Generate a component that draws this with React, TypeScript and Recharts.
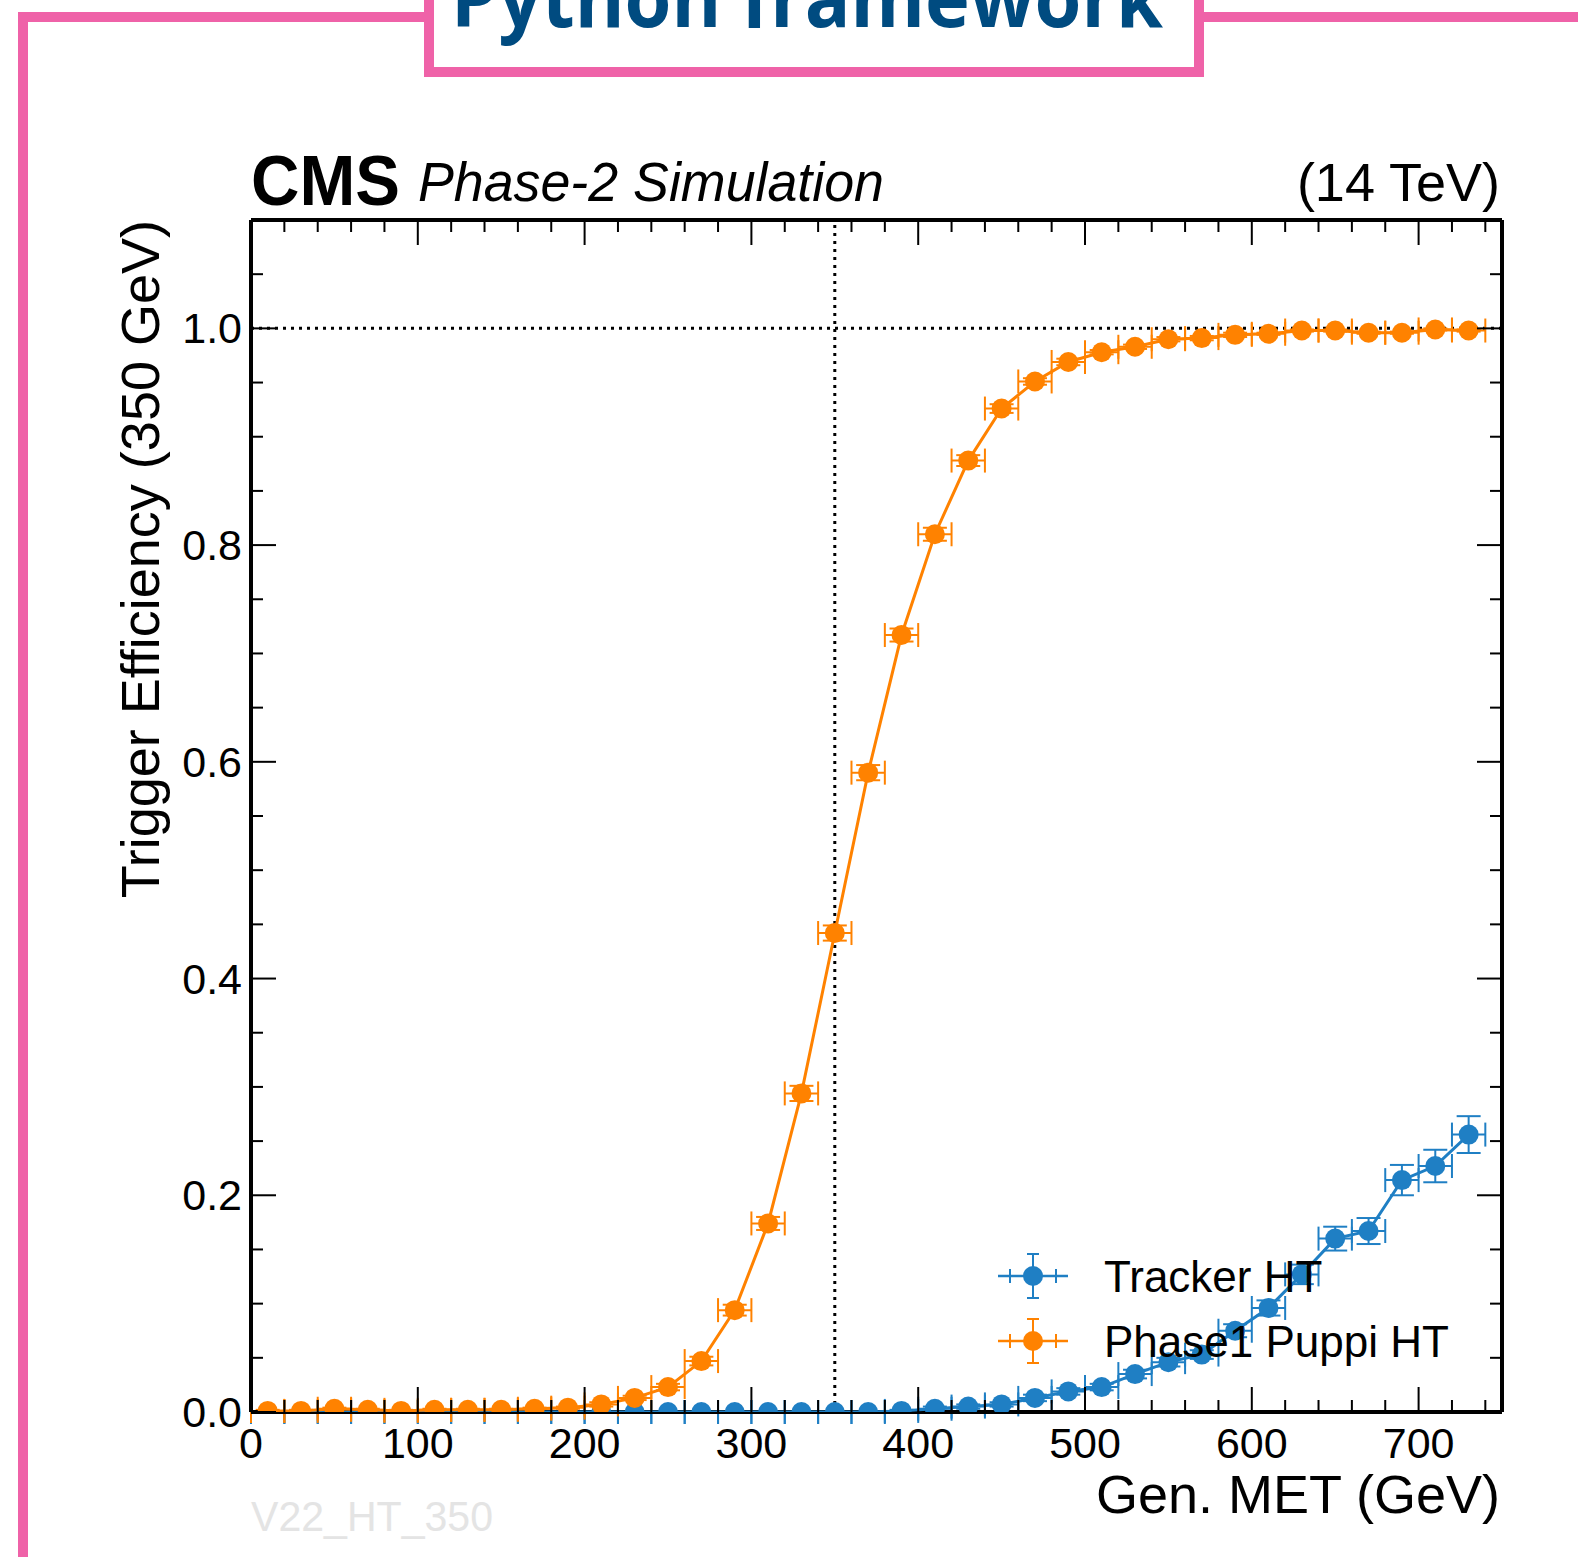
import { ScatterChart, Scatter, XAxis, YAxis, ErrorBar, ReferenceLine } from 'recharts';

// bin centres of Gen. MET (GeV), 20 GeV wide bins
const metBins = [
  10, 30, 50, 70, 90, 110, 130, 150, 170, 190, 210, 230, 250, 270, 290, 310, 330, 350, 370,
  390, 410, 430, 450, 470, 490, 510, 530, 550, 570, 590, 610, 630, 650, 670, 690, 710, 730,
];
const binHalfWidth = 10;

const trackerEff = [
  0, 0, 0, 0, 0, 0, 0, 0, 0, 0, 0, 0, 0, 0, 0, 0, 0, 0, 0,
  0.001, 0.003, 0.005, 0.007, 0.013, 0.019, 0.023, 0.035, 0.046, 0.053, 0.075, 0.096, 0.127, 0.16, 0.167, 0.214, 0.227, 0.256,
];
const trackerErr = [
  0, 0, 0, 0, 0, 0, 0, 0, 0, 0, 0, 0, 0, 0, 0, 0, 0, 0, 0,
  0.001, 0.002, 0.002, 0.002, 0.003, 0.003, 0.003, 0.004, 0.004, 0.004, 0.006, 0.007, 0.009, 0.011, 0.012, 0.014, 0.015, 0.017,
];

const puppiEff = [
  0.001, 0.001, 0.003, 0.002, 0.001, 0.002, 0.002, 0.002, 0.003, 0.004, 0.007, 0.013, 0.023, 0.047, 0.094, 0.174, 0.294, 0.442, 0.59,
  0.717, 0.81, 0.878, 0.926, 0.951, 0.969, 0.978, 0.983, 0.99, 0.991, 0.994, 0.995, 0.998, 0.998, 0.996, 0.996, 0.999, 0.998,
];
const puppiErr = [
  0.001, 0.001, 0.001, 0.001, 0.001, 0.001, 0.001, 0.001, 0.001, 0.001, 0.002, 0.002, 0.003, 0.004, 0.005, 0.006, 0.007, 0.007, 0.007,
  0.006, 0.006, 0.005, 0.004, 0.003, 0.003, 0.002, 0.002, 0.002, 0.002, 0.002, 0.001, 0.001, 0.001, 0.001, 0.001, 0.001, 0.001,
];

const xTicks = [
  0, 20, 40, 60, 80, 100, 120, 140, 160, 180, 200, 220, 240, 260, 280, 300, 320, 340, 360, 380,
  400, 420, 440, 460, 480, 500, 520, 540, 560, 580, 600, 620, 640, 660, 680, 700, 720, 740,
];
const yTicks = [
  0, 0.05, 0.1, 0.15, 0.2, 0.25, 0.3, 0.35, 0.4, 0.45, 0.5, 0.55, 0.6, 0.65, 0.7, 0.75, 0.8, 0.85, 0.9, 0.95, 1.0, 1.05, 1.1,
];

const thresholdMet = 350;
const plateau = 1.0;

const BLUE = '#1f7fc4';
const ORANGE = '#ff8200';
const PINK = '#ef62a8';
const FONT = '"Liberation Sans", Arial, Helvetica, sans-serif';

const series = [
  { name: 'Tracker HT', color: BLUE },
  { name: 'Phase1 Puppi HT', color: ORANGE },
];

const trackerData = metBins.map((x, i) => ({ x, y: trackerEff[i], ex: binHalfWidth, ey: trackerErr[i] }));
const puppiData = metBins.map((x, i) => ({ x, y: puppiEff[i], ex: binHalfWidth, ey: puppiErr[i] }));

const isMajorY = (v: number) => Math.abs(v * 5 - Math.round(v * 5)) < 1e-6;

const BottomTick = (props: any) => {
  const { x, y, payload } = props;
  const major = payload.value % 100 === 0;
  return (
    <g>
      <line x1={x} x2={x} y1={y} y2={y - (major ? 25 : 12)} stroke="#000" strokeWidth={2} />
      {major && (
        <text x={x} y={y + 46} textAnchor="middle" fontSize={43} fontFamily={FONT} fill="#000">
          {payload.value}
        </text>
      )}
    </g>
  );
};

const TopTick = (props: any) => {
  const { x, y, payload } = props;
  const major = payload.value % 100 === 0;
  return <line x1={x} x2={x} y1={y} y2={y + (major ? 25 : 12)} stroke="#000" strokeWidth={2} />;
};

const LeftTick = (props: any) => {
  const { x, y, payload } = props;
  const major = isMajorY(payload.value);
  const showLabel = major && payload.value <= 1.0001;
  return (
    <g>
      <line x1={x} x2={x + (major ? 25 : 12)} y1={y} y2={y} stroke="#000" strokeWidth={2} />
      {showLabel && (
        <text x={x - 9} y={y + 15} textAnchor="end" fontSize={43} fontFamily={FONT} fill="#000">
          {payload.value.toFixed(1)}
        </text>
      )}
    </g>
  );
};

const RightTick = (props: any) => {
  const { x, y, payload } = props;
  const major = isMajorY(payload.value);
  return <line x1={x} x2={x - (major ? 25 : 12)} y1={y} y2={y} stroke="#000" strokeWidth={2} />;
};

const Dot = (color: string) => (props: any) => <circle cx={props.cx} cy={props.cy} r={10} fill={color} />;

const LegendMarker = ({ cx, cy, c }: { cx: number; cy: number; c: string }) => (
  <g>
    <line x1={cx - 35} x2={cx + 35} y1={cy} y2={cy} stroke={c} strokeWidth={2.5} />
    <line x1={cx - 23} x2={cx - 23} y1={cy - 7} y2={cy + 7} stroke={c} strokeWidth={2} />
    <line x1={cx + 23} x2={cx + 23} y1={cy - 7} y2={cy + 7} stroke={c} strokeWidth={2} />
    <line x1={cx} x2={cx} y1={cy - 22} y2={cy + 22} stroke={c} strokeWidth={2} />
    <line x1={cx - 6} x2={cx + 6} y1={cy - 22} y2={cy - 22} stroke={c} strokeWidth={2} />
    <line x1={cx - 6} x2={cx + 6} y1={cy + 22} y2={cy + 22} stroke={c} strokeWidth={2} />
    <circle cx={cx} cy={cy} r={10} fill={c} />
  </g>
);

export default function App() {
  return (
    <div style={{ position: 'relative', width: 1578, height: 1557, background: '#fff' }}>
      <style>{'body{margin:0}'}</style>

      <ScatterChart
        width={1578}
        height={1557}
        margin={{ top: 219, right: 75, bottom: 144, left: 250 }}
      >
        <XAxis
          xAxisId="b"
          type="number"
          dataKey="x"
          domain={[0, 750]}
          ticks={xTicks}
          interval={0}
          height={1}
          tickSize={0}
          tickMargin={0}
          tickLine={false}
          tick={<BottomTick />}
          axisLine={{ stroke: '#000', strokeWidth: 4 }}
          allowDataOverflow
        />
        <XAxis
          xAxisId="t"
          orientation="top"
          type="number"
          dataKey="x"
          domain={[0, 750]}
          ticks={xTicks}
          interval={0}
          height={1}
          tickSize={0}
          tickMargin={0}
          tickLine={false}
          tick={<TopTick />}
          axisLine={{ stroke: '#000', strokeWidth: 4 }}
          allowDataOverflow
        />
        <YAxis
          yAxisId="l"
          type="number"
          dataKey="y"
          domain={[0, 1.1]}
          ticks={yTicks}
          interval={0}
          width={1}
          tickSize={0}
          tickMargin={0}
          tickLine={false}
          tick={<LeftTick />}
          axisLine={{ stroke: '#000', strokeWidth: 4 }}
          allowDataOverflow
        />
        <YAxis
          yAxisId="r"
          orientation="right"
          type="number"
          dataKey="y"
          domain={[0, 1.1]}
          ticks={yTicks}
          interval={0}
          width={1}
          tickSize={0}
          tickMargin={0}
          tickLine={false}
          tick={<RightTick />}
          axisLine={{ stroke: '#000', strokeWidth: 4 }}
          allowDataOverflow
        />

        <ReferenceLine xAxisId="b" yAxisId="l" x={thresholdMet} stroke="#000" strokeWidth={3} strokeDasharray="3 5" />
        <ReferenceLine xAxisId="b" yAxisId="l" y={plateau} stroke="#000" strokeWidth={3} strokeDasharray="3 5" />

        <Scatter
          name={series[0].name}
          xAxisId="b"
          yAxisId="l"
          data={trackerData}
          fill={BLUE}
          line={{ stroke: BLUE, strokeWidth: 3 }}
          shape={Dot(BLUE)}
          isAnimationActive={false}
        >
          <ErrorBar dataKey="ex" direction="x" width={12} stroke={BLUE} strokeWidth={2} isAnimationActive={false} />
          <ErrorBar dataKey="ey" direction="y" width={12} stroke={BLUE} strokeWidth={2} isAnimationActive={false} />
        </Scatter>
        <Scatter
          name={series[1].name}
          xAxisId="b"
          yAxisId="l"
          data={puppiData}
          fill={ORANGE}
          line={{ stroke: ORANGE, strokeWidth: 3 }}
          shape={Dot(ORANGE)}
          isAnimationActive={false}
        >
          <ErrorBar dataKey="ex" direction="x" width={12} stroke={ORANGE} strokeWidth={2} isAnimationActive={false} />
          <ErrorBar dataKey="ey" direction="y" width={12} stroke={ORANGE} strokeWidth={2} isAnimationActive={false} />
        </Scatter>
      </ScatterChart>

      <svg
        width={1578}
        height={1557}
        style={{ position: 'absolute', left: 0, top: 0, pointerEvents: 'none' }}
      >
        {/* legend */}
        {series.map((s, i) => (
          <g key={s.name}>
            <LegendMarker cx={1033} cy={1276 + i * 65} c={s.color} />
            <text x={1104} y={1292 + i * 65} fontSize={44} fontFamily={FONT} fill="#000">
              {s.name}
            </text>
          </g>
        ))}

        {/* pink slide frame */}
        <rect x={18} y={12} width={10} height={1560} fill={PINK} />
        <rect x={18} y={12} width={410} height={10} fill={PINK} />
        <rect x={1200} y={12} width={378} height={10} fill={PINK} />
        <rect x={429} y={-30} width={770} height={102} fill="#fff" stroke={PINK} strokeWidth={10} />
        <text
          x={451}
          y={27}
          fontSize={80}
          fontWeight={700}
          fontFamily='"Open Sans", sans-serif'
          fill="#004b80"
          textLength={712}
          lengthAdjust="spacingAndGlyphs"
        >
          Python framework
        </text>

        {/* CMS header */}
        <text x={251} y={205} fontSize={70} fontWeight={700} fontFamily={FONT} textLength={149} lengthAdjust="spacingAndGlyphs">
          CMS
        </text>
        <text x={418} y={201} fontSize={55} fontStyle="italic" fontFamily={FONT} textLength={466} lengthAdjust="spacingAndGlyphs">
          Phase-2 Simulation
        </text>
        <text x={1500} y={201} fontSize={54} fontFamily={FONT} textAnchor="end">
          (14 TeV)
        </text>

        {/* axis titles */}
        <text
          transform="translate(159,220) rotate(-90)"
          fontSize={54}
          fontFamily={FONT}
          textAnchor="end"
        >
          Trigger Efficiency (350 GeV)
        </text>
        <text x={1500} y={1513} fontSize={54} fontFamily={FONT} textAnchor="end">
          Gen. MET (GeV)
        </text>

        <text x={251} y={1531} fontSize={42} fontFamily={FONT} fill="#e4e4e4" textLength={242} lengthAdjust="spacingAndGlyphs">
          V22_HT_350
        </text>
      </svg>
    </div>
  );
}
